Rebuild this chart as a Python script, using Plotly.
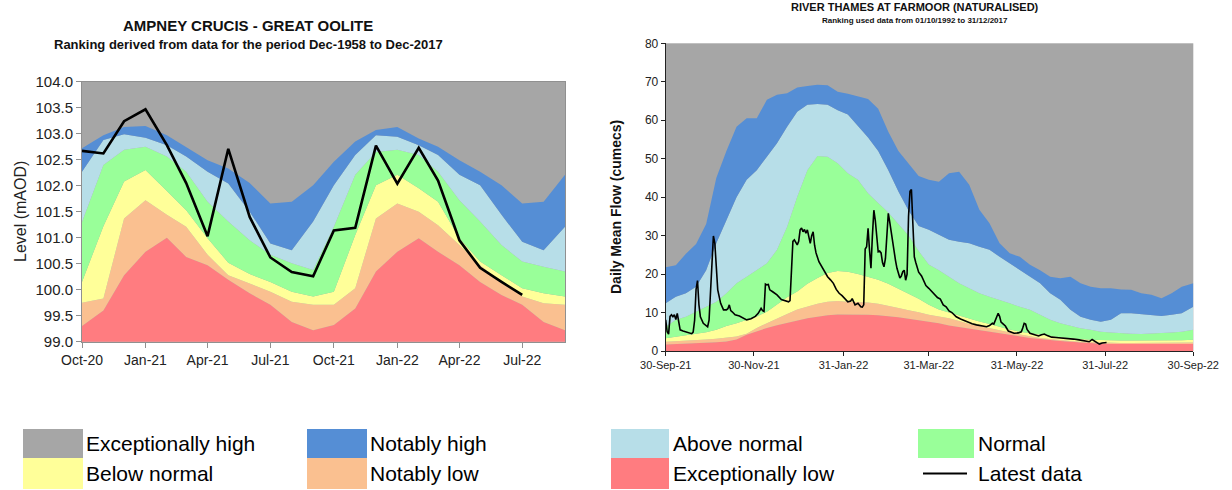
import pandas as pd
import plotly.graph_objects as go

# ---------------- Left chart: Ampney Crucis (monthly) ----------------
L_MONTHS = pd.date_range("2020-10-01", periods=24, freq="MS")
L_EXC_LOW_TOP = [99.30, 99.60, 100.28, 100.73, 101.00, 100.63, 100.47, 100.19, 99.93, 99.71, 99.38, 99.22,
                 99.32, 99.64, 100.35, 100.73, 100.99, 100.73, 100.47, 100.15, 99.90, 99.71, 99.38, 99.22]
L_NOT_LOW_TOP = [99.75, 99.83, 101.37, 101.72, 101.44, 101.21, 100.67, 100.28, 100.12, 99.96, 99.77, 99.71,
                 99.71, 100.03, 101.37, 101.66, 101.50, 101.24, 100.86, 100.47, 100.15, 99.87, 99.74, 99.71]
L_BELOW_TOP = [100.15, 101.22, 102.08, 102.30, 101.90, 101.53, 100.99, 100.52, 100.30, 100.15, 99.96, 99.87,
               99.96, 101.05, 102.01, 102.21, 101.95, 101.69, 100.99, 100.54, 100.28, 100.03, 99.93, 99.87]
L_NORMAL_TOP = [101.30, 102.40, 102.69, 102.75, 102.56, 102.27, 101.69, 101.31, 100.95, 100.67, 100.51, 100.38,
                101.21, 102.21, 102.65, 102.69, 102.59, 102.27, 101.72, 101.31, 100.86, 100.54, 100.44, 100.35]
L_ABOVE_TOP = [102.27, 102.88, 102.99, 102.92, 102.78, 102.56, 102.27, 102.04, 101.50, 100.89, 100.76, 101.31,
               102.01, 102.59, 102.97, 102.94, 102.78, 102.59, 102.21, 102.01, 101.44, 100.92, 100.76, 101.21]
L_NOT_HIGH_TOP = [102.72, 102.97, 103.13, 103.15, 102.97, 102.75, 102.49, 102.33, 102.05, 101.66, 101.69, 102.01,
                  102.46, 102.85, 103.07, 103.13, 102.91, 102.75, 102.49, 102.27, 102.01, 101.66, 101.69, 102.21]
L_LATEST = [102.67, 102.62, 103.24, 103.47, 102.78, 102.05, 101.03, 102.71, 101.40, 100.62, 100.34, 100.26,
            101.14, 101.19, 102.77, 102.04, 102.73, 102.10, 100.95, 100.42, 100.15, 99.90]
L_TICKVALS = ["2020-10-01", "2021-01-01", "2021-04-01", "2021-07-01",
              "2021-10-01", "2022-01-01", "2022-04-01", "2022-07-01"]
L_TICKTEXT = ["Oct-20", "Jan-21", "Apr-21", "Jul-21", "Oct-21", "Jan-22", "Apr-22", "Jul-22"]

# ---------------- Right chart: Thames at Farmoor (daily) ----------------
R_BASE = pd.Timestamp("2021-09-30")
R_BAND_DAYS = [0, 7, 14, 21, 28, 35, 42, 49, 56, 63, 70, 77, 84, 91, 98, 105, 112, 119, 126, 133, 140, 147,
               154, 161, 168, 175, 182, 189, 196, 203, 210, 217, 224, 231, 238, 245, 252, 259, 266, 273, 280,
               287, 294, 301, 308, 315, 322, 329, 336, 343, 350, 357, 365]
R_EXC_LOW_TOP = [1.7, 1.8, 1.9, 2.0, 2.1, 2.3, 2.5, 3.0, 4.2, 5.2, 6.0, 6.7, 7.3, 8.0, 8.5, 8.9, 9.3, 9.5, 9.5,
                 9.5, 9.4, 9.3, 9.1, 8.8, 8.4, 8.0, 7.6, 7.2, 6.6, 6.2, 5.8, 5.4, 5.0, 4.6, 4.1, 3.7, 3.4, 3.1,
                 2.8, 2.6, 2.4, 2.2, 2.0, 1.9, 1.8, 1.8, 1.8, 1.8, 1.8, 1.8, 1.8, 1.8, 1.8]
R_NOT_LOW_TOP = [2.4, 2.5, 2.7, 2.8, 3.0, 3.2, 3.5, 3.8, 4.5, 6.0, 7.2, 8.3, 9.6, 10.8, 11.6, 12.3, 12.8, 13.0,
                 12.8, 12.7, 12.6, 12.3, 11.8, 11.2, 10.6, 10.1, 9.4, 9.0, 8.5, 7.8, 7.0, 6.5, 6.0, 5.4, 4.8,
                 4.3, 3.8, 3.4, 3.1, 2.8, 2.6, 2.4, 2.3, 2.2, 2.1, 2.1, 2.1, 2.1, 2.1, 2.1, 2.1, 2.2, 2.2]
R_BELOW_TOP = [3.3, 3.7, 4.1, 4.5, 4.9, 5.5, 6.5, 7.2, 8.0, 9.0, 10.2, 12.0, 14.0, 15.5, 17.5, 19.0, 20.3, 20.8,
               20.6, 20.0, 19.3, 18.5, 17.5, 16.2, 14.8, 13.6, 12.0, 10.8, 10.0, 9.3, 8.6, 7.7, 7.0, 6.2, 5.6,
               5.0, 4.6, 4.2, 3.9, 3.6, 3.3, 3.1, 2.9, 2.8, 2.7, 2.7, 2.7, 2.7, 2.7, 2.7, 2.8, 2.8, 2.9]
R_NORMAL_TOP = [6.3, 8.1, 8.9, 10.2, 11.5, 12.8, 15.0, 17.6, 19.3, 21.0, 22.8, 26.3, 32.3, 40.1, 47.0, 50.7,
                50.5, 48.8, 46.2, 44.5, 41.0, 38.5, 36.0, 33.0, 30.0, 26.0, 22.5, 21.0, 19.3, 17.6, 16.3, 15.0,
                14.1, 13.3, 12.4, 11.5, 10.7, 9.4, 8.1, 7.2, 6.5, 5.9, 5.5, 5.0, 4.8, 4.6, 4.5, 4.4, 4.5, 4.6,
                4.8, 5.0, 5.5]
R_ABOVE_TOP = [12.4, 14.1, 15.0, 16.7, 21.0, 28.0, 34.0, 40.0, 44.5, 47.0, 50.5, 54.0, 58.3, 62.2, 64.0, 64.2,
               64.0, 62.6, 61.5, 58.5, 55.5, 52.0, 47.0, 41.5, 36.5, 32.5, 31.5, 30.2, 28.9, 28.4, 28.0, 27.1,
               26.3, 24.5, 22.8, 21.0, 19.3, 17.6, 15.0, 13.3, 10.7, 8.9, 8.1, 7.6, 8.1, 9.8, 9.8, 9.6, 9.4,
               9.1, 9.4, 9.8, 11.5]
R_NOT_HIGH_TOP = [21.8, 22.3, 25.3, 27.8, 33.0, 45.0, 52.0, 58.3, 60.5, 60.5, 65.3, 66.6, 67.0, 68.5, 68.9,
                  69.2, 69.1, 67.4, 66.9, 66.1, 65.5, 63.0, 57.0, 52.0, 48.8, 45.5, 44.5, 44.0, 46.2, 46.6,
                  43.2, 36.7, 33.2, 28.0, 25.4, 24.5, 22.4, 21.0, 19.3, 18.9, 19.3, 17.6, 16.7, 16.3, 16.3,
                  16.0, 15.9, 15.0, 14.6, 13.7, 15.0, 16.7, 17.6]
R_LATEST_DAYS = [0, 1, 2, 3, 4, 5, 6, 7, 8, 9, 10, 12, 14, 16, 18, 19, 20, 21, 22, 23, 24, 26, 28, 29, 30, 31,
                 32, 33, 34, 35, 36, 38, 40, 42, 43, 44, 45, 46, 48, 51, 54, 56, 59, 62, 64, 66, 67, 68, 69,
                 70, 71, 72, 74, 77, 80, 83, 85, 86, 87, 88, 89, 90, 91, 92, 93, 94, 95, 96, 97, 98, 99, 100,
                 101, 102, 103, 104, 106, 108, 110, 112, 114, 116, 118, 120, 122, 124, 126, 128, 129, 131,
                 133, 135, 136, 137, 138, 139, 140, 141, 142, 143, 144, 145, 146, 147, 148, 149, 150, 151,
                 152, 153, 154, 155, 156, 157, 158, 159, 160, 161, 162, 163, 164, 165, 166, 167, 168, 169,
                 170, 171, 172, 173, 174, 175, 177, 178, 180, 182, 184, 186, 188, 190, 192, 194, 196, 198,
                 201, 204, 208, 212, 215, 218, 222, 224, 226, 227, 228, 229, 230, 231, 232, 233, 235, 237,
                 239, 241, 244, 246, 247, 248, 249, 250, 252, 254, 256, 258, 260, 262, 264, 267, 270, 274,
                 278, 282, 286, 290, 293, 295, 296, 298, 300, 302, 305]
R_LATEST = [8.1, 5.0, 4.4, 9.0, 9.4, 8.9, 9.4, 8.2, 9.8, 7.2, 5.5, 5.2, 5.0, 4.7, 4.5, 4.9, 8.0, 16.0, 18.3,
            12.0, 8.9, 7.2, 6.5, 6.3, 8.0, 16.0, 26.0, 29.9, 28.0, 22.0, 15.9, 12.4, 10.7, 10.7, 11.0, 12.0,
            10.5, 10.2, 9.4, 9.1, 8.5, 8.1, 8.4, 9.0, 9.8, 11.1, 10.5, 10.3, 17.4, 17.2, 17.3, 15.9, 15.4,
            14.6, 13.4, 13.0, 12.8, 13.1, 20.0, 28.5, 28.9, 28.4, 27.6, 28.5, 31.5, 32.0, 31.0, 31.6, 30.6,
            31.5, 30.0, 28.0, 30.0, 31.0, 27.5, 25.5, 23.2, 21.8, 20.5, 19.3, 18.5, 17.6, 16.0, 15.0, 14.4,
            13.6, 12.8, 13.0, 13.6, 12.0, 12.4, 11.5, 11.4, 12.0, 26.5, 27.1, 31.9, 26.2, 21.5, 30.0, 36.6,
            34.0, 30.0, 25.8, 26.0, 25.5, 23.0, 21.9, 24.0, 31.0, 35.8, 33.5, 31.0, 27.5, 25.0, 23.5, 21.5,
            20.0, 19.0, 19.5, 20.6, 21.0, 18.4, 20.0, 35.0, 41.5, 42.0, 33.0, 24.5, 23.0, 22.0, 20.5, 19.5,
            18.5, 17.0, 16.3, 15.5, 14.5, 13.9, 13.5, 12.0, 11.5, 10.4, 10.0, 8.9, 8.3, 7.6, 7.1, 6.8, 6.6,
            6.3, 6.6, 7.2, 7.0, 8.0, 9.0, 9.8, 9.0, 7.5, 7.2, 6.5, 5.2, 4.9, 4.6, 4.7, 5.0, 6.0, 7.2, 7.0,
            5.6, 4.6, 4.4, 4.0, 3.9, 4.2, 4.4, 4.0, 3.6, 3.5, 3.4, 3.3, 3.1, 2.9, 2.6, 2.4, 3.0, 2.8, 2.2,
            1.8, 2.1, 2.2]
R_TICKVALS = ["2021-09-30", "2021-11-30", "2022-01-31", "2022-03-31", "2022-05-31", "2022-07-31", "2022-09-30"]
R_TICKTEXT = ["30-Sep-21", "30-Nov-21", "31-Jan-22", "31-Mar-22", "31-May-22", "31-Jul-22", "30-Sep-22"]

# ---------------- Legend ----------------
LEGEND_LABELS = ["Exceptionally high", "Notably high", "Above normal", "Normal",
                 "Below normal", "Notably low", "Exceptionally low", "Latest data"]

# ---------------- Styles ----------------
C_GRAY = "#A6A6A6"
C_NH = "#558ED5"
C_AN = "#B7DEE8"
C_N = "#99FF99"
C_BN = "#FFFF99"
C_NL = "#FAC090"
C_EL = "#FF7C80"
BAND_COLORS = [C_EL, C_NL, C_BN, C_N, C_AN, C_NH]
LEGEND_COLORS = [C_GRAY, C_NH, C_AN, C_N, C_BN, C_NL, C_EL, None]
FONT = "Liberation Sans, Arial, sans-serif"

W, H = 1232, 490


def px_x(x):
    return x / W


def px_y(y):
    return 1 - y / H


fig = go.Figure()

# left bands
left_tops = [L_EXC_LOW_TOP, L_NOT_LOW_TOP, L_BELOW_TOP, L_NORMAL_TOP, L_ABOVE_TOP, L_NOT_HIGH_TOP]
for i, (vals, col) in enumerate(zip(left_tops, BAND_COLORS)):
    fig.add_trace(go.Scatter(x=L_MONTHS, y=vals, mode="lines", line=dict(width=0, color=col),
                             fill="tozeroy" if i == 0 else "tonexty", fillcolor=col,
                             showlegend=False, hoverinfo="skip", xaxis="x", yaxis="y"))
fig.add_trace(go.Scatter(x=L_MONTHS[:len(L_LATEST)], y=L_LATEST, mode="lines",
                         line=dict(color="black", width=2.6), showlegend=False, xaxis="x", yaxis="y"))

# right bands
r_band_x = R_BASE + pd.to_timedelta(R_BAND_DAYS, unit="D")
right_tops = [R_EXC_LOW_TOP, R_NOT_LOW_TOP, R_BELOW_TOP, R_NORMAL_TOP, R_ABOVE_TOP, R_NOT_HIGH_TOP]
for i, (vals, col) in enumerate(zip(right_tops, BAND_COLORS)):
    fig.add_trace(go.Scatter(x=r_band_x, y=vals, mode="lines", line=dict(width=0, color=col, shape="linear"),
                             fill="tozeroy" if i == 0 else "tonexty", fillcolor=col,
                             showlegend=False, hoverinfo="skip", xaxis="x2", yaxis="y2"))
r_line_x = R_BASE + pd.to_timedelta(R_LATEST_DAYS, unit="D")
fig.add_trace(go.Scatter(x=r_line_x, y=R_LATEST, mode="lines", line=dict(color="black", width=1.6),
                         showlegend=False, xaxis="x2", yaxis="y2"))

shapes = []
annotations = []

# legend: 4 columns x 2 rows
col_sw = [(23, 83), (307, 367), (611, 669), (918, 974)]
col_tx = [84, 368, 671, 976]
rows = [(429, 458), (458, 489)]
for k, label in enumerate(LEGEND_LABELS):
    r, c = divmod(k, 4)
    y0, y1 = rows[r]
    x0, x1 = col_sw[c]
    col = LEGEND_COLORS[k]
    if col is not None:
        shapes.append(dict(type="rect", xref="paper", yref="paper", x0=px_x(x0), x1=px_x(x1),
                           y0=px_y(y1), y1=px_y(y0), fillcolor=col, line=dict(width=0), layer="above"))
    else:
        ym = (y0 + y1) / 2
        shapes.append(dict(type="line", xref="paper", yref="paper", x0=px_x(923), x1=px_x(967),
                           y0=px_y(ym), y1=px_y(ym), line=dict(color="black", width=2)))
    annotations.append(dict(text=label, xref="paper", yref="paper", x=px_x(col_tx[c]), y=px_y((y0 + y1) / 2),
                            xanchor="left", yanchor="middle", showarrow=False,
                            font=dict(family=FONT, size=21, color="black")))

# titles
annotations += [
    dict(text="<b>AMPNEY CRUCIS - GREAT OOLITE</b>", xref="paper", yref="paper", x=px_x(248), y=px_y(26),
         xanchor="center", yanchor="middle", showarrow=False, font=dict(family=FONT, size=15, color="#111")),
    dict(text="<b>Ranking derived from data for the period Dec-1958 to Dec-2017</b>", xref="paper", yref="paper",
         x=px_x(248), y=px_y(45), xanchor="center", yanchor="middle", showarrow=False,
         font=dict(family=FONT, size=13, color="#111")),
    dict(text="<b>RIVER THAMES AT FARMOOR (NATURALISED)</b>", xref="paper", yref="paper", x=px_x(915),
         y=px_y(7), xanchor="center", yanchor="middle", showarrow=False, font=dict(family=FONT, size=11, color="#111")),
    dict(text="<b>Ranking used data from 01/10/1992 to 31/12/2017</b>", xref="paper", yref="paper", x=px_x(915),
         y=px_y(20), xanchor="center", yanchor="middle", showarrow=False, font=dict(family=FONT, size=8, color="#111")),
    dict(text="Level (mAOD)", xref="paper", yref="paper", x=px_x(20), y=px_y(212), textangle=-90,
         xanchor="center", yanchor="middle", showarrow=False, font=dict(family=FONT, size=16, color="#222")),
    dict(text="<b>Daily Mean Flow (cumecs)</b>", xref="paper", yref="paper", x=px_x(616), y=px_y(207),
         textangle=-90, xanchor="center", yanchor="middle", showarrow=False,
         font=dict(family=FONT, size=14, color="#111")),
]

fig.update_layout(
    width=W, height=H,
    autosize=False,
    margin=dict(l=0, r=0, t=0, b=0, pad=0, autoexpand=False),
    paper_bgcolor="white",
    plot_bgcolor=C_GRAY,
    showlegend=False,
    font=dict(family=FONT),
    shapes=shapes,
    annotations=annotations,
    xaxis=dict(domain=[px_x(82), px_x(565)], anchor="y", type="date", automargin=False,
               range=["2020-10-01", "2022-09-01"], tickvals=L_TICKVALS, ticktext=L_TICKTEXT,
               showgrid=False, zeroline=False, showline=True, linecolor="#909090", mirror=True,
               ticks="outside", ticklen=5, tickcolor="#909090",
               tickfont=dict(family=FONT, size=14, color="#222")),
    yaxis=dict(domain=[px_y(341.7), px_y(81.7)], anchor="x", range=[99, 104], dtick=0.5, tick0=99,
               automargin=False, tickformat=".1f", showgrid=False, zeroline=False, showline=True,
               linecolor="#909090", mirror=True, ticks="outside", ticklen=5, tickcolor="#909090",
               tickfont=dict(family=FONT, size=15, color="#222")),
    xaxis2=dict(domain=[px_x(665.7), px_x(1193.3)], anchor="y2", type="date", automargin=False,
                range=["2021-09-30", "2022-09-30"], tickvals=R_TICKVALS, ticktext=R_TICKTEXT,
                showgrid=False, zeroline=False, showline=True, linecolor="#222", linewidth=1,
                ticks="outside", ticklen=4, tickcolor="#222",
                tickfont=dict(family=FONT, size=11, color="#222")),
    yaxis2=dict(domain=[px_y(351), px_y(43.3)], anchor="x2", range=[0, 80], dtick=10, automargin=False,
                showgrid=False, zeroline=False, showline=True, linecolor="#222", linewidth=1,
                ticks="outside", ticklen=4, tickcolor="#222",
                tickfont=dict(family=FONT, size=12, color="#222")),
)

fig.write_html("out.html", config={"displayModeBar": False},
               post_script="document.body.style.margin='0px';document.body.style.overflow='hidden';")
